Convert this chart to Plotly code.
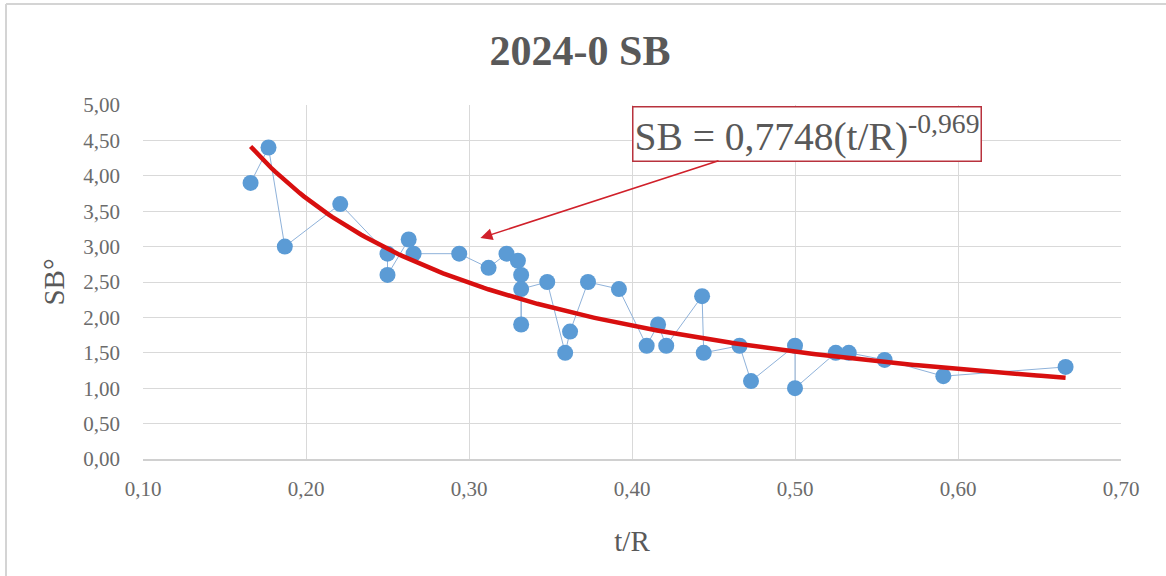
import numpy as np
import plotly.graph_objects as go

# Data (t/R vs SB)
t_over_r = [0.166, 0.177, 0.187, 0.221, 0.250, 0.250, 0.263, 0.266, 0.294, 0.312,
            0.323, 0.330, 0.332, 0.332, 0.332, 0.348, 0.359, 0.362, 0.373, 0.392,
            0.409, 0.416, 0.421, 0.443, 0.444, 0.466, 0.473, 0.500, 0.500, 0.525,
            0.533, 0.555, 0.591, 0.666]
sb_values = [3.90, 4.40, 3.00, 3.60, 2.90, 2.60, 3.10, 2.90, 2.90, 2.70,
             2.90, 2.80, 2.60, 1.90, 2.40, 2.50, 1.50, 1.80, 2.50, 2.40,
             1.60, 1.90, 1.60, 2.30, 1.50, 1.60, 1.10, 1.60, 1.00, 1.50,
             1.50, 1.40, 1.17, 1.30]

# Power trendline coefficients shown on the chart
fit_a = 0.7748
fit_b = -0.969
fit_x_range = [min(t_over_r), max(t_over_r)]

x_ticks = [0.10, 0.20, 0.30, 0.40, 0.50, 0.60, 0.70]
x_tick_labels = ["0,10", "0,20", "0,30", "0,40", "0,50", "0,60", "0,70"]
y_ticks = [0.0, 0.5, 1.0, 1.5, 2.0, 2.5, 3.0, 3.5, 4.0, 4.5, 5.0]
y_tick_labels = ["0,00", "0,50", "1,00", "1,50", "2,00", "2,50", "3,00", "3,50", "4,00", "4,50", "5,00"]

title_text = "2024-0 SB"
x_title = "t/R"
y_title = "SB°"
equation_text = "SB = 0,7748(t/R)<sup>-0,969</sup>"

fit_x = np.linspace(fit_x_range[0], fit_x_range[1], 200)
fit_y = fit_a * fit_x ** fit_b

serif = "Liberation Serif, Times New Roman, serif"
grey = "#595959"
tick_grey = "#6b6b6b"

fig = go.Figure()
fig.add_trace(go.Scatter(
    x=t_over_r, y=sb_values, mode="lines+markers",
    line=dict(color="#8fb2da", width=1),
    marker=dict(color="#5b9bd5", size=16, line=dict(width=0)),
    showlegend=False, hoverinfo="x+y",
))
fig.add_trace(go.Scatter(
    x=fit_x, y=fit_y, mode="lines",
    line=dict(color="#d80f0f", width=4.5),
    showlegend=False, hoverinfo="skip",
))

fig.update_layout(
    width=1166, height=576,
    margin=dict(l=143, r=45, t=105, b=117),
    paper_bgcolor="white", plot_bgcolor="white",
    title=dict(text="<b>" + title_text + "</b>", x=(580) / 1166, xanchor="center",
               y=1 - 50 / 576, yanchor="middle",
               font=dict(family=serif, size=42, color=grey)),
    xaxis=dict(range=[0.10, 0.70], tickvals=x_ticks, ticktext=x_tick_labels,
               showgrid=True, gridcolor="#d9d9d9", gridwidth=1,
               showline=True, linecolor="#d0d0d0", linewidth=2, zeroline=False,
               ticks="", ticklabelstandoff=10,
               tickfont=dict(family=serif, size=21, color=tick_grey),
               title=dict(text=x_title, font=dict(family=serif, size=29, color=grey),
                          standoff=30)),
    yaxis=dict(range=[0, 5.0], tickvals=y_ticks, ticktext=y_tick_labels,
               showgrid=True, gridcolor="#d9d9d9", gridwidth=1,
               showline=False, zeroline=False, ticks="", ticklabelstandoff=22,
               tickfont=dict(family=serif, size=21, color=tick_grey),
               title=dict(text=y_title, font=dict(family=serif, size=29, color=grey),
                          standoff=10)),
    font=dict(family=serif, color=grey),
)

# Equation box
fig.add_annotation(
    x=0.10 + (807 - 142) / 1632, y=(459 - 134) / 70.8, xref="x", yref="y",
    text=equation_text, showarrow=False,
    font=dict(family=serif, size=39.5, color=grey),
    bordercolor="#b8323d", borderwidth=1.5, borderpad=1, bgcolor="white",
)
# Arrow from equation to curve
fig.add_annotation(
    x=0.307, y=3.12, xref="x", yref="y",
    ax=0.454, ay=4.22, axref="x", ayref="y",
    text="", showarrow=True, arrowhead=2, arrowsize=1.6, arrowwidth=1.5,
    arrowcolor="#d0202a",
)

# Outer chart frame (top and left edges visible)
fig.add_shape(type="line", xref="paper", yref="paper",
              x0=(6 - 143) / 978, x1=(1166 - 143) / 978,
              y0=(459 - 4) / 354, y1=(459 - 4) / 354,
              line=dict(color="#d4d4d4", width=2))
fig.add_shape(type="line", xref="paper", yref="paper",
              x0=(6 - 143) / 978, x1=(6 - 143) / 978,
              y0=(459 - 4) / 354, y1=(459 - 576) / 354,
              line=dict(color="#d4d4d4", width=2))

fig.write_html("out.html")
